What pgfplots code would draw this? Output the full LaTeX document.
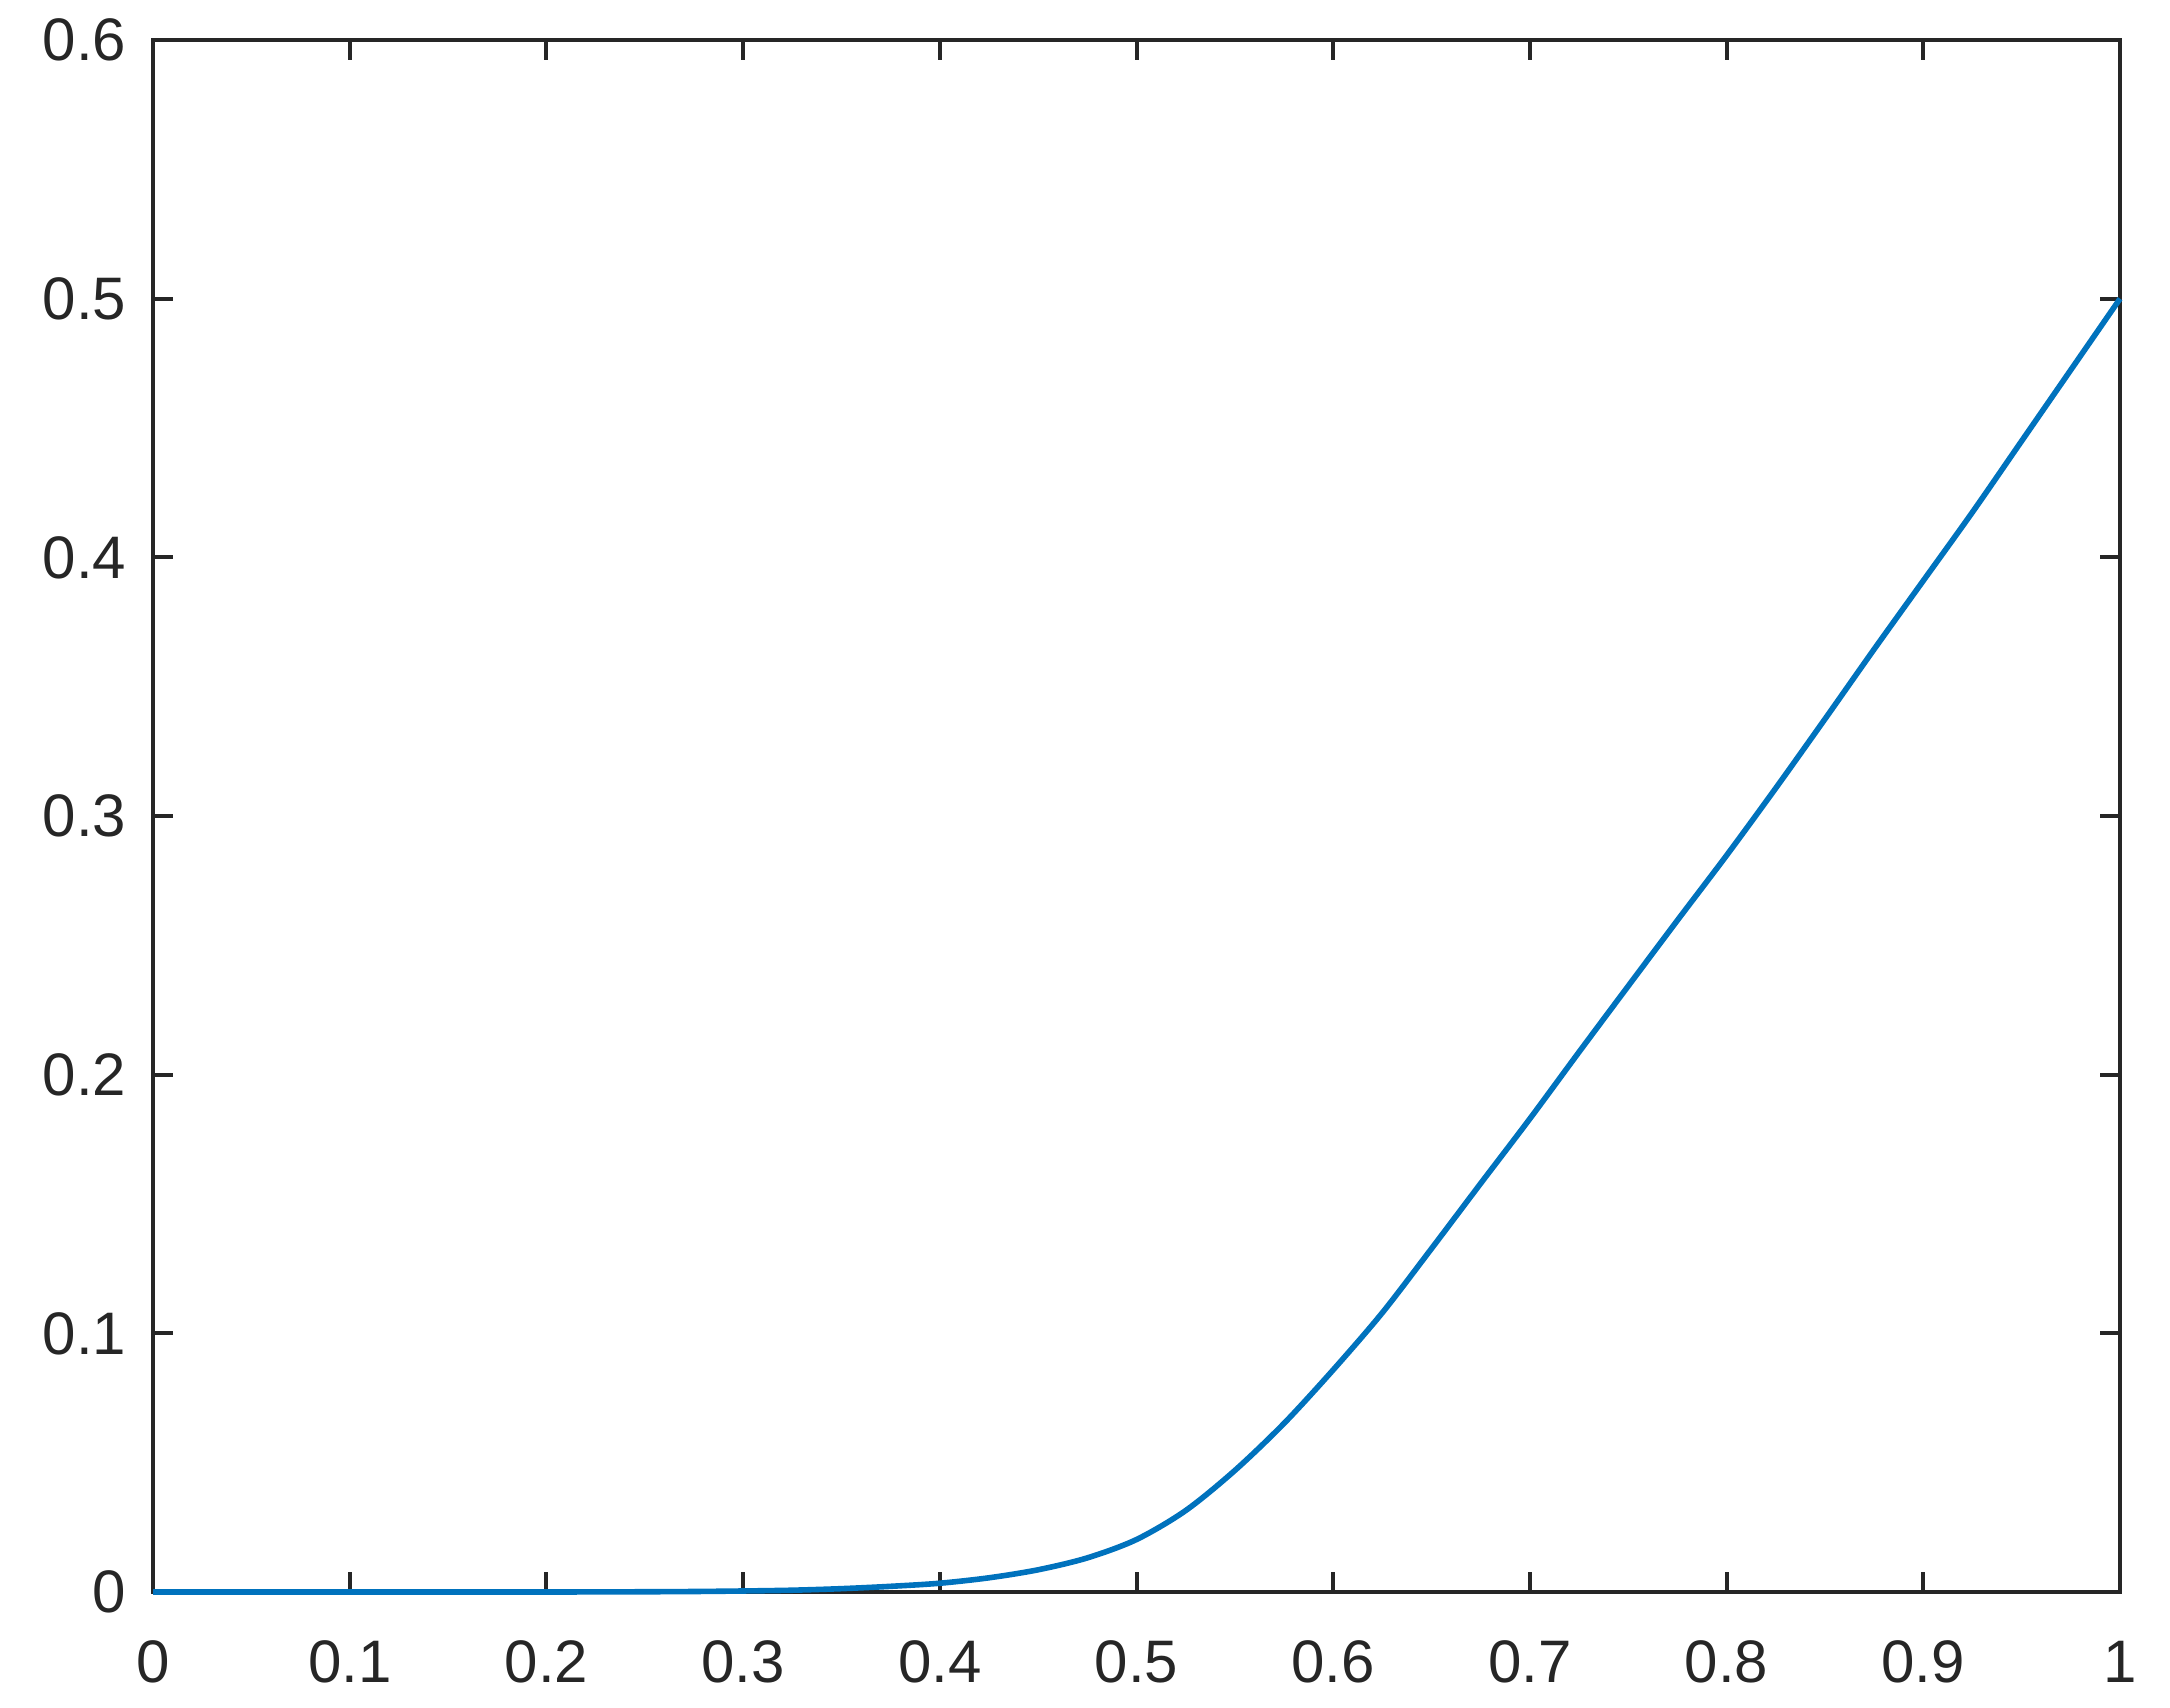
\documentclass[border=0pt]{standalone}
\usepackage{fontspec}
\setmainfont{Liberation Sans}
\usepackage{pgfplots}
\pgfplotsset{compat=1.18}
\definecolor{mlblue}{HTML}{0072BD}
\definecolor{axisgray}{HTML}{262626}

\begin{document}
\fontsize{15}{18}\selectfont
\begin{tikzpicture}
% 1 px of the reference = 0.25pt
\useasboundingbox (-38.25pt,-28.75pt) rectangle (504.25pt,398pt);
\begin{axis}[
  at={(0,0)}, anchor=south west,
  width=491.75pt, height=388pt, scale only axis,
  xmin=0, xmax=1, ymin=0, ymax=0.6,
  xtick={0,0.1,...,1}, ytick={0,0.1,...,0.6},
  tick pos=both, tick align=inside,
  major tick length=5pt,
  axis line style={axisgray, line width=1pt},
  every tick/.style={axisgray, line width=1pt},
  tick label style={font=\fontsize{15}{18}\selectfont, text=axisgray, inner sep=0pt},
  xticklabel style={yshift=-12pt},
  yticklabel style={xshift=-6.5pt},
  /pgf/number format/assume math mode=true,
  clip=false,
]
\addplot[mlblue, line width=1.4pt, smooth] coordinates {
(0,0) (0.025,0) (0.05,0) (0.075,0) (0.1,0) (0.125,0) (0.15,0) (0.175,0)
(0.2,0) (0.225,0.00005) (0.25,0.0001) (0.275,0.0002) (0.3,0.0004)
(0.325,0.0007) (0.35,0.0013) (0.375,0.0022) (0.4,0.0034) (0.425,0.0055)
(0.45,0.0086) (0.475,0.0132) (0.5,0.0203) (0.525,0.0315) (0.55,0.047)
(0.575,0.0652) (0.6,0.0859) (0.625,0.108) (0.65,0.1328) (0.675,0.158)
(0.7,0.183) (0.725,0.2088) (0.75,0.2343) (0.775,0.2597) (0.8,0.2848)
(0.825,0.3108) (0.85,0.3375) (0.875,0.3645) (0.9,0.391) (0.925,0.4175)
(0.95,0.445) (0.975,0.4725) (1,0.5)
};
\end{axis}
\end{tikzpicture}
\end{document}
